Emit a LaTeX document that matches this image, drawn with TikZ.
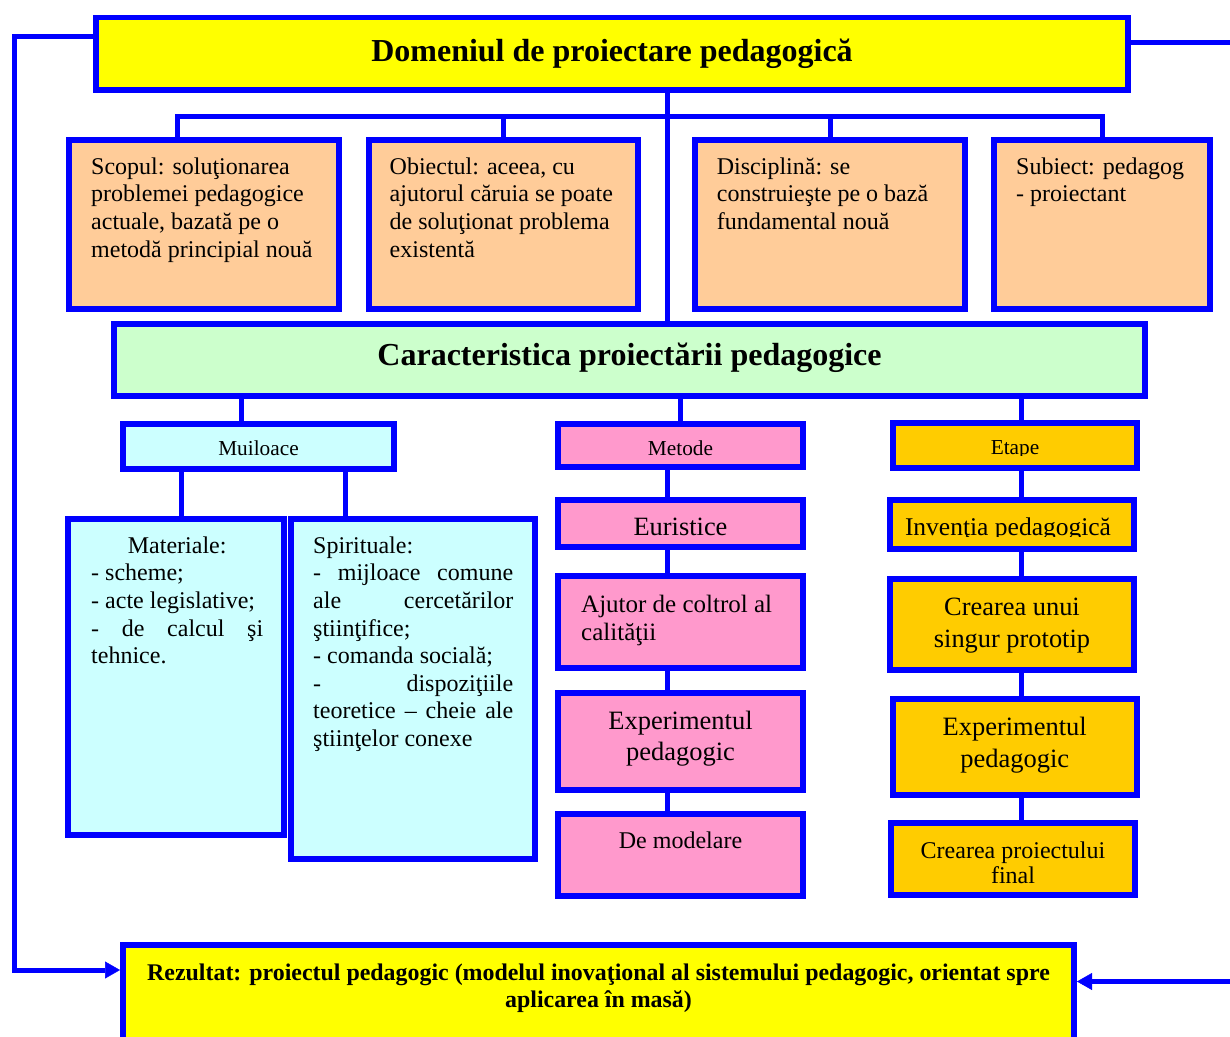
\documentclass[tikz,border=0pt]{standalone}
\usepackage{fontspec}
\setmainfont{Liberation Serif}
\usetikzlibrary{arrows.meta}

\definecolor{lineblue}{HTML}{0000FF}
\definecolor{headyellow}{HTML}{FFFF00}
\definecolor{peach}{HTML}{FFCC99}
\definecolor{mint}{HTML}{CCFFCC}
\definecolor{paleaqua}{HTML}{CCFFFF}
\definecolor{rosepink}{HTML}{FF99CC}
\definecolor{amber}{HTML}{FFCC00}

% stacked lines: first line's baseline is the box baseline
\newcommand\leftlines[2]{\vtop{\hsize=#1\parindent=0pt\parskip=0pt\leftskip=0pt\rightskip=0pt plus 1fil\parfillskip=0pt\relax #2\par}}
\newcommand\centerlines[2]{\vtop{\hsize=#1\parindent=0pt\parskip=0pt\leftskip=0pt plus 1fil\rightskip=0pt plus 1fil\parfillskip=0pt\relax #2\par}}
\newcommand\spread[1]{\makebox[\hsize][s]{#1}}

\tikzset{
  box/.style={rectangle, draw=lineblue, line width=5.6pt, inner sep=0pt},
  link/.style={draw=lineblue, line width=5pt},
  back/.style={link, -{Triangle[length=15pt,width=17pt,line width=0.5pt]}},
  txt/.style={inner sep=0pt, anchor=base west, text=black},
  ctxt/.style={inner sep=0pt, anchor=base, text=black},
  big/.style={font=\bfseries\fontsize{32}{36}\selectfont},
  body/.style={font=\fontsize{24}{27.7}\selectfont},
  tag/.style={font=\fontsize{21.3}{24}\selectfont},
}

\begin{document}
\begin{tikzpicture}[x=1pt, y=-1pt]
\clip (0,0) rectangle (1230,1036);

% ---------- routing points ----------
\coordinate (bus) at (667,116);
\coordinate (xm) at (241.5,0);
\coordinate (xmat) at (181,0);
\coordinate (xspir) at (345,0);
\coordinate (xp) at (667,0);
\coordinate (xe) at (1021,0);
\coordinate (lc) at (14,36.7);
\coordinate (rc1) at (1240,42);
\coordinate (rc2) at (1240,981.5);

% ---------- boxes ----------
\node[box, fill=headyellow, minimum width=1032.4pt, minimum height=72.4pt] (head) at (612,53.5) {};

\node[box, fill=peach, minimum width=270.4pt, minimum height=169.4pt] (scop) at (204,224.5) {};
\node[box, fill=peach, minimum width=269.4pt, minimum height=169.4pt] (obiect) at (503.5,224.5) {};
\node[box, fill=peach, minimum width=270.4pt, minimum height=169.4pt] (discip) at (830,224.5) {};
\node[box, fill=peach, minimum width=216.4pt, minimum height=169.4pt] (subiect) at (1102,224.5) {};

\node[box, fill=mint, minimum width=1031.4pt, minimum height=72.4pt] (caract) at (629.5,360) {};

\node[box, fill=paleaqua, minimum width=271.4pt, minimum height=44.9pt] (mij) at (258.5,446.25) {};
\node[box, fill=paleaqua, minimum width=216.4pt, minimum height=316.4pt] (mat) at (176,677) {};
\node[box, fill=paleaqua, minimum width=244.4pt, minimum height=340.4pt] (spir) at (413,689) {};

\node[box, fill=rosepink, minimum width=245.4pt, minimum height=43.4pt] (metode) at (680.5,445.5) {};
\node[box, fill=rosepink, minimum width=245.4pt, minimum height=47.4pt] (eur) at (680.5,523.5) {};
\node[box, fill=rosepink, minimum width=245.4pt, minimum height=92.4pt] (ajut) at (680.5,622) {};
\node[box, fill=rosepink, minimum width=245.4pt, minimum height=97.4pt] (expp) at (680.5,741.5) {};
\node[box, fill=rosepink, minimum width=245.4pt, minimum height=82.4pt] (model) at (680.5,855) {};

\node[box, fill=amber, minimum width=244.4pt, minimum height=45.4pt] (etape) at (1015,445.5) {};
\node[box, fill=amber, minimum width=244.4pt, minimum height=49.4pt] (inv) at (1012,524.5) {};
\node[box, fill=amber, minimum width=244.4pt, minimum height=91.4pt] (crunui) at (1012,624.5) {};
\node[box, fill=amber, minimum width=244.4pt, minimum height=96.4pt] (expo) at (1015,747) {};
\node[box, fill=amber, minimum width=244.4pt, minimum height=72.4pt] (crfin) at (1013,859) {};

\node[box, fill=headyellow, minimum width=951.4pt, minimum height=102.4pt] (rez) at (598.5,996) {};

% ---------- connectors ----------
\draw[link] (head.south -| bus) -- (caract.north -| bus);
\draw[link] ([xshift=-27pt]scop.north) |- (bus) -| (subiect.north);
\draw[link] (obiect.north) -- (obiect.north |- bus);
\draw[link] (discip.north) -- (discip.north |- bus);

\draw[link] (caract.south -| xm) -- (mij.north -| xm);
\draw[link] (mij.south -| xmat) -- (mat.north -| xmat);
\draw[link] (mij.south -| xspir) -- (spir.north -| xspir);

\draw[link] (caract.south -| metode.north) -- (metode.north);
\draw[link] (metode.south -| xp) -- (eur.north -| xp);
\draw[link] (eur.south -| xp) -- (ajut.north -| xp);
\draw[link] (ajut.south -| xp) -- (expp.north -| xp);
\draw[link] (expp.south -| xp) -- (model.north -| xp);

\draw[link] (caract.south -| xe) -- (etape.north -| xe);
\draw[link] (etape.south -| xe) -- (inv.north -| xe);
\draw[link] (inv.south -| xe) -- (crunui.north -| xe);
\draw[link] (crunui.south -| xe) -- (expo.north -| xe);
\draw[link] (expo.south -| xe) -- (crfin.north -| xe);

% feedback lines into the result
\draw[back] ([yshift=16.8pt]head.west) -- (lc) |- ([yshift=26pt]rez.west);
\draw[link] ([yshift=11.5pt]head.east) -- (rc1);
\draw[back] (rc2) -- ([yshift=14.5pt]rez.east);

% ---------- texts ----------
\node[ctxt, big] (headt) at (612,61) {Domeniul de proiectare pedagogică};

\node[txt, body] (scopt) at (91,174) {\leftlines{250pt}{Scopul: soluţionarea\par problemei pedagogice\par actuale, bazată pe o\par metodă principial nouă}};
\node[txt, body] (obiectt) at (389.5,174) {\leftlines{250pt}{Obiectul: aceea, cu\par ajutorul căruia se poate\par de soluţionat problema\par existentă}};
\node[txt, body] (discipt) at (716.7,174) {\leftlines{250pt}{Disciplină: se\par construieşte pe o bază\par fundamental nouă}};
\node[txt, body] (subiectt) at (1016,174) {\leftlines{190pt}{Subiect: pedagog\par - proiectant}};

\node[ctxt, big] (caractt) at (629.5,365.7) {Caracteristica proiectării pedagogice};

\begin{scope}
  \clip (123,424) rectangle (394,456.3);
  \node[ctxt, tag] (mijt) at (258.5,455.5) {Muiloace};
\end{scope}

\node[txt, font=\fontsize{24}{27.6}\selectfont] (matt) at (91,553.3) {\leftlines{172pt}{\hfil Materiale:\par - scheme;\par - acte legislative;\par \spread{- de calcul şi}\par tehnice.}};
\node[txt, font=\fontsize{24}{27.6}\selectfont] (spirt) at (313,553.3) {\leftlines{200pt}{Spirituale:\par \spread{- mijloace comune}\par \spread{ale cercetărilor}\par ştiinţifice;\par - comanda socială;\par \spread{- dispoziţiile}\par \spread{teoretice – cheie ale}\par ştiinţelor conexe}};

\node[ctxt, tag] (metodet) at (680.5,455) {Metode};
\node[ctxt, font=\fontsize{26.4}{30}\selectfont] (eurt) at (680.5,535) {Euristice};
\node[txt, font=\fontsize{25}{28}\selectfont] (ajutt) at (581,612) {\leftlines{220pt}{Ajutor de coltrol al\par calităţii}};
\node[ctxt, font=\fontsize{26.5}{31}\selectfont] (exppt) at (680.5,729) {\centerlines{240pt}{Experimentul\par pedagogic}};
\node[ctxt, body] (modelt) at (680.5,848) {De modelare};

\begin{scope}
  \clip (893,423) rectangle (1137,455.5);
  \node[ctxt, tag] (etapet) at (1015,454.7) {Etape};
\end{scope}
\begin{scope}
  \clip (890,500) rectangle (1134,536.6);
  \node[ctxt, font=\fontsize{25.5}{29}\selectfont] (invt) at (1008,535.5) {Invenţia pedagogică};
\end{scope}
\node[ctxt, font=\fontsize{26.4}{32}\selectfont] (crunuit) at (1012,615) {\centerlines{240pt}{Crearea unui\par singur prototip}};
\node[ctxt, font=\fontsize{26.5}{32}\selectfont] (expot) at (1014.7,735) {\centerlines{240pt}{Experimentul\par pedagogic}};
\node[ctxt, font=\fontsize{24}{25}\selectfont] (crfint) at (1013,858.3) {\centerlines{240pt}{Crearea proiectului\par final}};

\node[ctxt, font=\bfseries\fontsize{23.9}{27}\selectfont] (rezt) at (598.5,980) {\centerlines{945pt}{Rezultat: proiectul pedagogic (modelul inovaţional al sistemului pedagogic, orientat spre\par aplicarea în masă)}};

\end{tikzpicture}
\end{document}
